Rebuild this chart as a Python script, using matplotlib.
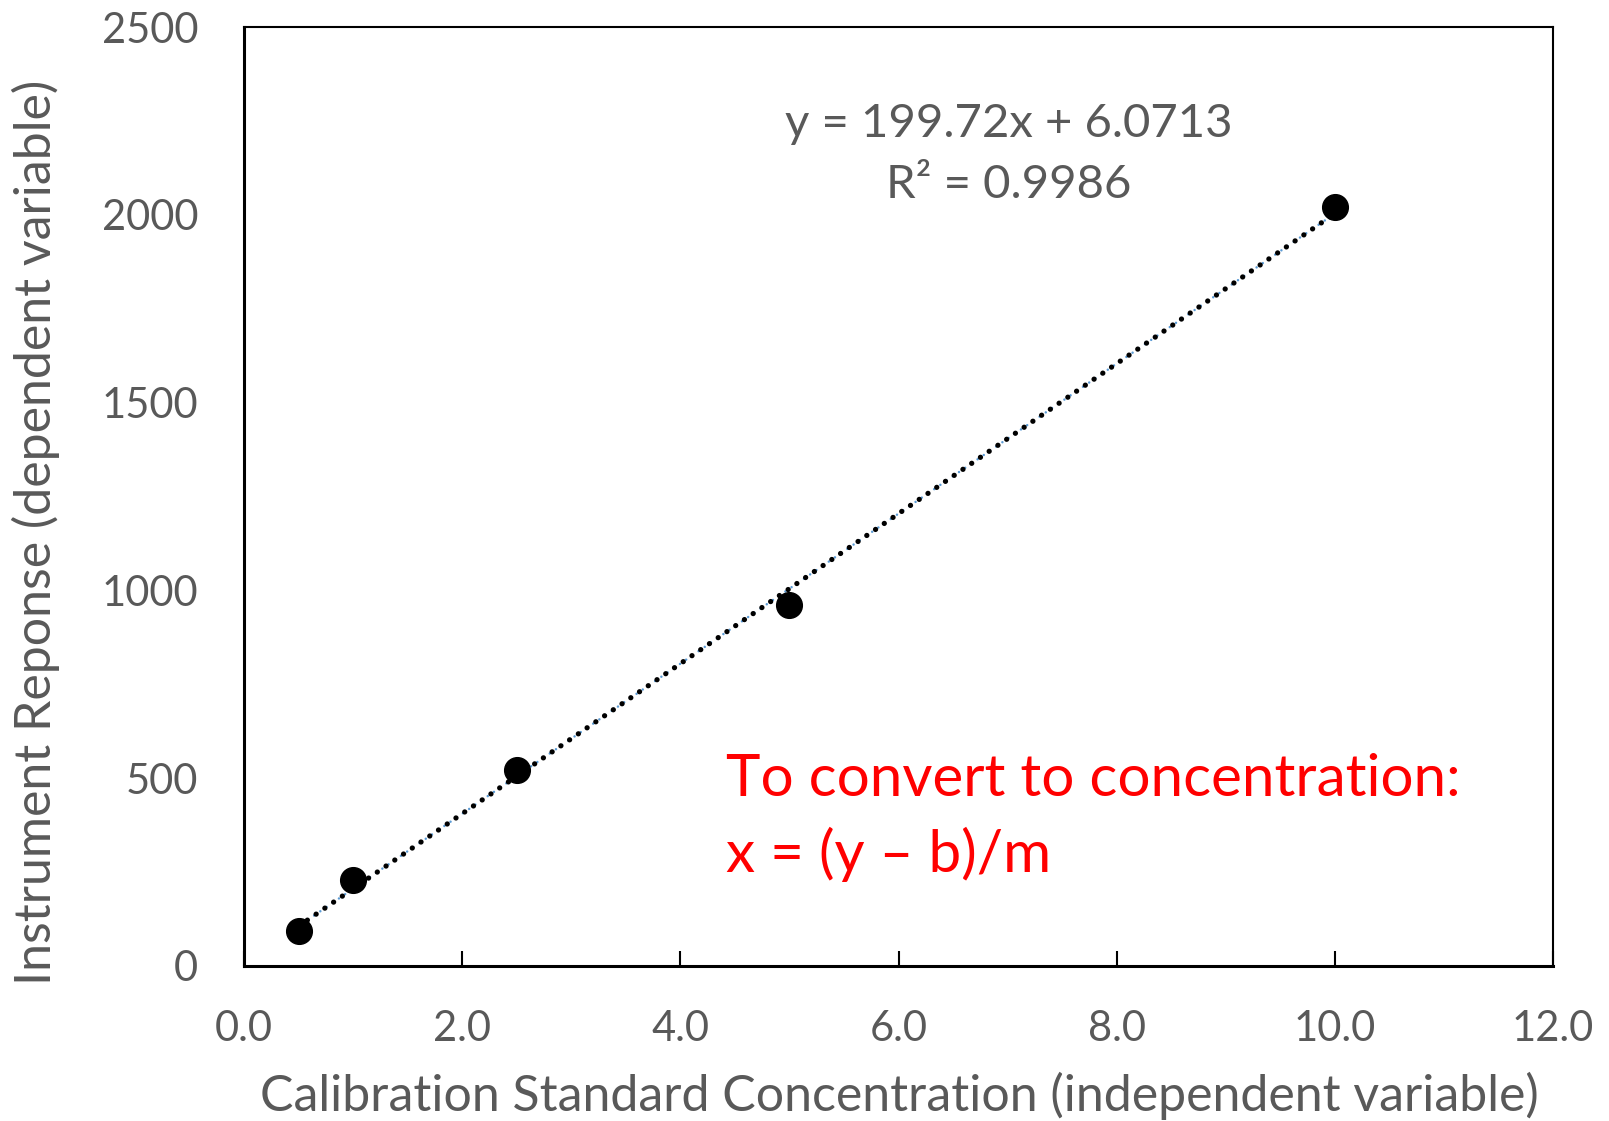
import matplotlib
matplotlib.use('Agg')
import matplotlib.pyplot as plt
import numpy as np

plt.rcParams['font.family'] = ['Lato', 'DejaVu Sans']

# calibration standards
conc = [0.5, 1.0, 2.5, 5.0, 10.0]
response = [94, 230, 522, 961, 2021]

# trendline as shown by Excel
slope = 199.72
intercept = 6.0713
r2 = 0.9986

xticks = [0, 2, 4, 6, 8, 10, 12]
yticks = [0, 500, 1000, 1500, 2000, 2500]

grey = '#595959'

fig = plt.figure(figsize=(16.09, 11.21), dpi=100)
ax = fig.add_axes([0.1517, 0.1383, 0.8135, 0.8376])

xs = np.array([conc[0], conc[-1]])
ys = slope * xs + intercept
ax.plot(xs, ys, color='#5B9BD5', lw=1.8, linestyle=(1.5, (0.01, 3.0)),
        dash_capstyle='round', zorder=2)
ax.plot(xs, ys, color='black', lw=3.8, linestyle=(0, (0.01, 2.0)),
        dash_capstyle='round', zorder=3)
ax.plot(conc, response, 'o', color='black', ms=18.5, zorder=4)

ax.set_xlim(0, 12)
ax.set_ylim(0, 2500)
ax.set_xticks(xticks)
ax.set_xticklabels([f'{t:.1f}' for t in xticks])
ax.set_yticks(yticks)
ax.tick_params(axis='x', direction='in', length=11, width=1.5, pad=32,
               labelsize=30, labelcolor=grey)
ax.tick_params(axis='y', length=0, pad=33, labelsize=30, labelcolor=grey)
for s in ax.spines.values():
    s.set_linewidth(1.5)
    s.set_color('black')
for s in ['left', 'bottom']:
    ax.spines[s].set_linewidth(2.2)

fig.text(0.5587, 0.0223,
         'Calibration Standard Concentration (independent variable)',
         ha='center', va='center', fontsize=36, color=grey)
fig.text(0.0224, 0.5254, 'Instrument Reponse (dependent variable)',
         ha='center', va='center', rotation=90, fontsize=36, color=grey)

ax.text(0.584, 0.864, f'y = {slope}x + {intercept}\nR² = {r2}',
        transform=ax.transAxes, ha='center', va='center',
        fontsize=34, color=grey, linespacing=1.55)
ax.text(0.3685, 0.158, 'To convert to concentration:\nx = (y – b)/m',
        transform=ax.transAxes, ha='left', va='center',
        fontsize=42, color='red', linespacing=1.45)

fig.savefig('out.png', dpi=100)
